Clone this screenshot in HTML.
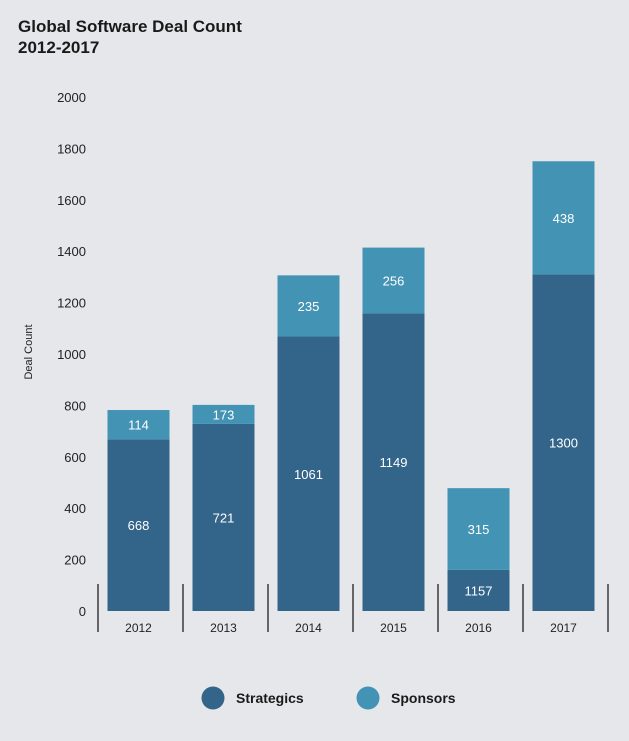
<!DOCTYPE html>
<html><head><meta charset="utf-8">
<style>
html,body{margin:0;padding:0;background:#e6e7eb;}
body{width:629px;height:736px;overflow:hidden;font-family:"Liberation Sans",sans-serif;}
svg text{font-family:"Liberation Sans",sans-serif;}
</style></head>
<body>
<svg id="chart" width="629" height="736">
<rect x="0" y="0" width="629" height="736" fill="#e6e7eb"/>
<text x="18" y="32" font-size="17" font-weight="bold" fill="#1a1a1a">Global Software Deal Count</text>
<text x="18" y="53" font-size="17" font-weight="bold" fill="#1a1a1a">2012-2017</text>
<text transform="translate(32,352) rotate(-90)" text-anchor="middle" font-size="11" fill="#222">Deal Count</text>
<g id="yticks"></g>
<g id="bars"></g>
<g id="xaxis"></g>
<g>
<g>
<circle cx="213" cy="698" r="11.5" fill="#336489"/>
<text x="236" y="703" font-size="14" font-weight="bold" fill="#1a1a1a">Strategics</text>
</g>
<g>
<circle cx="368" cy="698" r="11.5" fill="#4393b5"/>
<text x="391" y="703" font-size="14" font-weight="bold" fill="#1a1a1a">Sponsors</text>
</g>
</g>
</svg>
<script>
const categories = ["2012","2013","2014","2015","2016","2017"];
const strategics = [668,728,1068,1158,160,1310];
const sponsors = [114,74,238,256,318,440];
const strategicsLabels = ["668","721","1061","1149","1157","1300"];
const sponsorsLabels = ["114","173","235","256","315","438"];
const yTicks = [0,200,400,600,800,1000,1200,1400,1600,1800,2000];

const NS="http://www.w3.org/2000/svg";
const y0=611, y1=97, vMax=2000;
function yScale(v){return y0-(v/vMax)*(y0-y1);}
const slotStart=95, slotW=85, barW=62;
function xCenter(i){return slotStart+slotW*(i+0.5)+1;}
function mk(tag,attrs,parent){const e=document.createElementNS(NS,tag);for(const k in attrs)e.setAttribute(k,attrs[k]);parent.appendChild(e);return e;}

const yt=document.getElementById('yticks');
yTicks.forEach(t=>{
  const e=mk('text',{x:86,y:yScale(t)+5,'text-anchor':'end','font-size':13,fill:'#222'},yt);
  
  
  e.textContent=t;
});

const bars=document.getElementById('bars');
const xa=document.getElementById('xaxis');
categories.forEach((c,i)=>{
  const cx=xCenter(i), x=cx-barW/2;
  const ys=yScale(strategics[i]), yt2=yScale(strategics[i]+sponsors[i]);
  const r1=mk('rect',{x:x,y:ys,width:barW,height:y0-ys,fill:'#336489'},bars);
  
  
  const r2=mk('rect',{x:x,y:yt2,width:barW,height:ys-yt2,fill:'#4393b5'},bars);
  
  
  const l1=mk('text',{x:cx,y:(ys+y0)/2+5,'text-anchor':'middle','font-size':13,fill:'#fff'},bars);
  
  
  l1.textContent=strategicsLabels[i];
  const l2=mk('text',{x:cx,y:(ys+yt2)/2+5,'text-anchor':'middle','font-size':13,fill:'#fff'},bars);
  
  
  l2.textContent=sponsorsLabels[i];
  const xl=mk('text',{x:cx,y:632,'text-anchor':'middle','font-size':12,fill:'#222'},xa);
  
  
  xl.textContent=c;
});
for(let i=0;i<=categories.length;i++){
  const lx=slotStart+slotW*i+3;
  const ln=mk('line',{x1:lx,x2:lx,y1:584,y2:632,stroke:'#111','stroke-width':1.2},xa);
  
  
}
</script>
</body></html>
